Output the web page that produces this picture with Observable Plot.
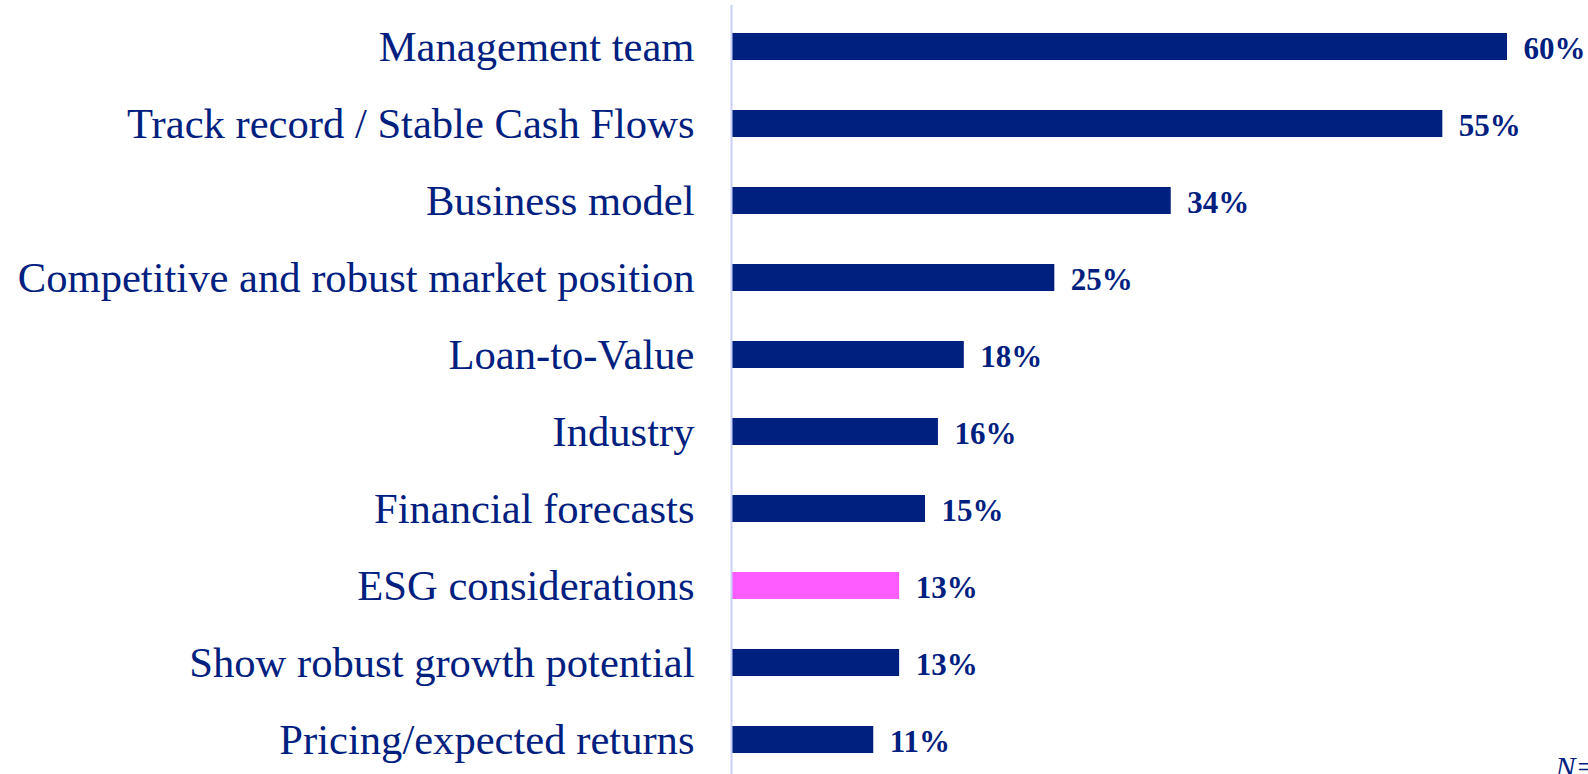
<!DOCTYPE html>
<html>
<head>
<meta charset="utf-8">
<script src="https://cdn.jsdelivr.net/npm/d3@7"></script>
<script src="https://cdn.jsdelivr.net/npm/@observablehq/plot@0.6"></script>
<style>
  html, body { margin: 0; padding: 0; background: #ffffff; overflow: hidden; }
</style>
</head>
<body>
<div id="chart"></div>
<script>
const categories = [
  "Management team",
  "Track record / Stable Cash Flows",
  "Business model",
  "Competitive and robust market position",
  "Loan-to-Value",
  "Industry",
  "Financial forecasts",
  "ESG considerations",
  "Show robust growth potential",
  "Pricing/expected returns"
];
const values = [60, 55, 34, 25, 18, 16, 15, 13, 13, 11];
const highlighted = ["ESG considerations"];
const valueLabels = values.map(v => v + "%");
const note = ["N="];

const navy = "#00207f";
const pink = "#ff5cff";

const data = categories.map((c, i) => ({category: c, value: values[i], label: valueLabels[i]}));

const chart = Plot.plot({
  width: 1588,
  height: 774,
  marginLeft: 731,
  marginRight: 81,
  marginTop: 5,
  marginBottom: 0,
  style: {fontFamily: "'Liberation Serif', 'Times New Roman', serif", color: navy, background: "#ffffff", overflow: "hidden"},
  x: {domain: [0, 60], axis: null},
  y: {domain: categories, range: [30, 755], paddingInner: 0.652, paddingOuter: 0, label: null},
  marks: [
    Plot.axisY({tickSize: 0, tickPadding: 37, fontSize: 42.6, label: null}),
    Plot.barX(data, {
      x: "value",
      y: "category",
      fill: d => highlighted.includes(d.category) ? pink : navy
    }),
    Plot.ruleX([0], {stroke: "#c8d0f8", strokeWidth: 2}),
    Plot.text(data, {
      x: "value",
      y: "category",
      text: "label",
      dx: 16,
      dy: 2.5,
      textAnchor: "start",
      fontSize: 31,
      fontWeight: "bold",
      fill: navy
    }),
    Plot.text(note, {
      frameAnchor: "bottom-left",
      dx: 824,
      dy: -19,
      textAnchor: "start",
      lineAnchor: "top",
      fontSize: 30,
      fontStyle: "italic",
      fill: navy
    })
  ]
});
document.getElementById("chart").appendChild(chart);
</script>
</body>
</html>
